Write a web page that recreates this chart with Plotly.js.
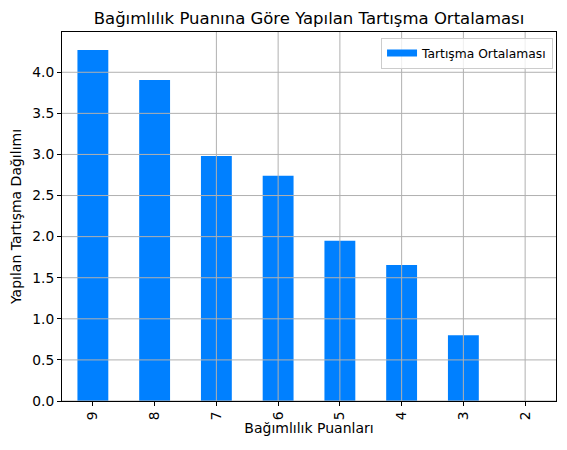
<!DOCTYPE html>
<html>
<head>
<meta charset="utf-8">
<script src="https://cdn.plot.ly/plotly-3.0.1.min.js"></script>
<style>html,body{margin:0;padding:0;background:#fff;}#chart{width:567px;height:450px;}</style>
</head>
<body>
<div id="chart"></div>
<script>
const categories = ["9", "8", "7", "6", "5", "4", "3", "2"];
const values = [4.27, 3.905, 2.98, 2.74, 1.95, 1.655, 0.80, 0.0];
const yTicks = [0, 0.5, 1.0, 1.5, 2.0, 2.5, 3.0, 3.5, 4.0];
const seriesName = "Tartışma Ortalaması";

const barColor = "#0080ff";
const gridColor = "#b0b0b0";
const shapes = [];
yTicks.forEach(v => shapes.push({type:"line", xref:"paper", x0:0, x1:1, yref:"y", y0:v, y1:v, layer:"above", line:{color:gridColor, width:1}}));
categories.forEach(c => shapes.push({type:"line", yref:"paper", y0:0, y1:1, xref:"x", x0:c, x1:c, layer:"above", line:{color:gridColor, width:1}}));

const trace = {
  type: "bar",
  x: categories,
  y: values,
  name: seriesName,
  width: 0.5,
  marker: {color: barColor},
  showlegend: false
};
// legend-only entry with a wide rectangular swatch (like matplotlib's patch)
const legendEntry = {
  type: "scatter", mode: "lines",
  x: [null], y: [null],
  name: seriesName,
  line: {color: barColor, width: 7},
  showlegend: true, hoverinfo: "skip"
};

const layout = {
  width: 567, height: 450,
  margin: {l: 62, r: 11, t: 32, b: 49},
  paper_bgcolor: "#fff", plot_bgcolor: "#fff",
  font: {family: "DejaVu Sans", size: 13.8, color: "#000"},
  title: {text: "Bağımlılık Puanına Göre Yapılan Tartışma Ortalaması", font: {size: 16.5, color: "#000"}, x: 0.545, xanchor: "center", y: 0.96, yanchor: "middle"},
  xaxis: {
    type: "category", range: [-0.5, 7.5],
    showgrid: false, zeroline: false,
    showline: true, linecolor: "#000", linewidth: 1, mirror: true,
    ticks: "outside", ticklen: 4, tickcolor: "#000", tickangle: -90,
    tickfont: {size: 13.8},
    title: {text: "Bağımlılık Puanları", font: {size: 14}, standoff: 2}
  },
  yaxis: {
    range: [0, 4.49],
    tickvals: yTicks, ticktext: yTicks.map(v => v.toFixed(1)),
    showgrid: false, zeroline: false,
    showline: true, linecolor: "#000", linewidth: 1, mirror: true,
    ticks: "outside", ticklen: 4, tickcolor: "#000",
    tickfont: {size: 13.8},
    title: {text: "Yapılan Tartışma Dağılımı", font: {size: 14}, standoff: 7}
  },
  shapes: shapes,
  legend: {
    x: 0.994, xanchor: "right", y: 0.985, yanchor: "top",
    bgcolor: "rgba(255,255,255,0.8)", bordercolor: "#cccccc", borderwidth: 1,
    font: {size: 12.3}, itemwidth: 30
  },
  bargap: 0.5
};

Plotly.newPlot("chart", [trace, legendEntry], layout, {displayModeBar: false, staticPlot: true});
</script>
</body>
</html>
